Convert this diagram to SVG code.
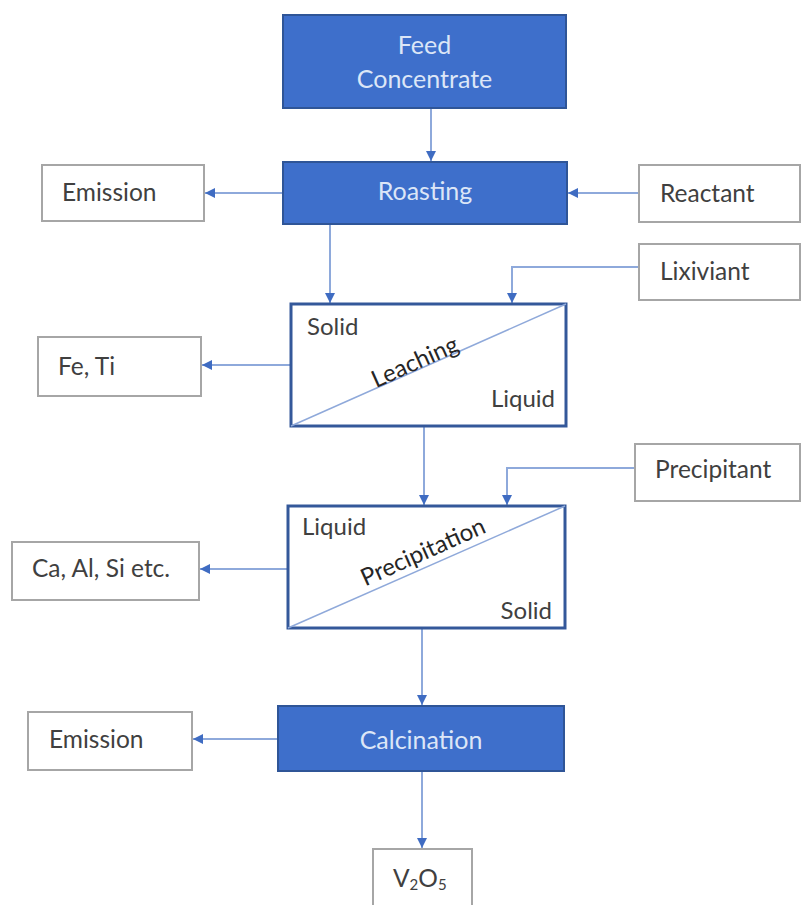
<svg xmlns="http://www.w3.org/2000/svg" width="802" height="905" viewBox="0 0 802 905">
  <defs>
    <marker id="arrow" viewBox="0 0 10 10" refX="10" refY="5" markerWidth="10" markerHeight="10" markerUnits="userSpaceOnUse" orient="auto">
      <path d="M0,0 L10,5 L0,10 z" fill="#3F6CC2"/>
    </marker>
    <style>
      .proc { fill: #3E6FCB; stroke: #2F5597; stroke-width: 2; }
      .proc-text { font-family: Lato, "Open Sans", sans-serif; font-size: 25px; fill: #DCE6F7; text-anchor: middle; }
      .io { fill: #FFFFFF; stroke: #A6A6A6; stroke-width: 2; }
      .io-text { font-family: Lato, "Open Sans", sans-serif; font-size: 24.5px; fill: #404040; }
      .split { fill: #FFFFFF; stroke: #34589A; stroke-width: 3; }
      .diag { stroke: #8FA9DA; stroke-width: 1.5; fill: none; }
      .split-text { font-family: Lato, "Open Sans", sans-serif; font-size: 24px; fill: #404040; }
      .split-title { font-family: Lato, "Open Sans", sans-serif; font-size: 24px; fill: #262626; text-anchor: middle; }
      .conn { stroke: #8EA9DB; stroke-width: 2; fill: none; marker-end: url(#arrow); }
    </style>
  </defs>
  <rect width="802" height="905" fill="#FFFFFF"/>

  <!-- connectors -->
  <g id="connectors">
    <path class="conn" d="M431,108 V161"/>
    <path class="conn" d="M283,193 H205"/>
    <path class="conn" d="M639,193 H568"/>
    <path class="conn" d="M330,224 V303"/>
    <path class="conn" d="M639,267 H512 V303"/>
    <path class="conn" d="M291,365 H202"/>
    <path class="conn" d="M424,426 V505"/>
    <path class="conn" d="M635,468 H507 V505"/>
    <path class="conn" d="M288,569 H200"/>
    <path class="conn" d="M422,628 V705"/>
    <path class="conn" d="M278,739 H193"/>
    <path class="conn" d="M422,771 V848"/>
  </g>

  <!-- process steps -->
  <g id="feed">
    <rect class="proc" x="283" y="15" width="283" height="93"/>
    <text class="proc-text" x="424.5" y="54">Feed</text>
    <text class="proc-text" x="424.5" y="88">Concentrate</text>
  </g>
  <g id="roasting">
    <rect class="proc" x="283" y="162" width="284" height="62"/>
    <text class="proc-text" x="425" y="200">Roasting</text>
  </g>
  <g id="emission-1">
    <rect class="io" x="42" y="165" width="162" height="56"/>
    <text class="io-text" x="62" y="201">Emission</text>
  </g>
  <g id="reactant">
    <rect class="io" x="639" y="165" width="161" height="57"/>
    <text class="io-text" x="660" y="202">Reactant</text>
  </g>
  <g id="lixiviant">
    <rect class="io" x="639" y="244" width="161" height="56"/>
    <text class="io-text" x="660" y="280">Lixiviant</text>
  </g>

  <g id="leaching">
    <rect class="split" x="291" y="304" width="275" height="122"/>
    <line class="diag" x1="291" y1="426" x2="566" y2="304"/>
    <text class="split-text" x="307" y="335">Solid</text>
    <text class="split-text" x="555" y="407" text-anchor="end">Liquid</text>
    <text class="split-title" x="415" y="370" transform="rotate(-24 415 362)">Leaching</text>
  </g>
  <g id="fe-ti">
    <rect class="io" x="38" y="337" width="163" height="59"/>
    <text class="io-text" x="58" y="375">Fe, Ti</text>
  </g>

  <g id="precipitant">
    <rect class="io" x="635" y="444" width="165" height="57"/>
    <text class="io-text" x="655" y="478">Precipitant</text>
  </g>
  <g id="precipitation">
    <rect class="split" x="288" y="506" width="277" height="122"/>
    <line class="diag" x1="288" y1="628" x2="565" y2="506"/>
    <text class="split-text" x="302" y="535">Liquid</text>
    <text class="split-text" x="552" y="619" text-anchor="end">Solid</text>
    <text class="split-title" x="423" y="560" transform="rotate(-24 423 552)">Precipitation</text>
  </g>
  <g id="ca-al-si">
    <rect class="io" x="12" y="542" width="187" height="58"/>
    <text class="io-text" x="32" y="577">Ca, Al, Si etc.</text>
  </g>

  <g id="calcination">
    <rect class="proc" x="278" y="706" width="286" height="65"/>
    <text class="proc-text" x="421" y="749">Calcination</text>
  </g>
  <g id="emission-2">
    <rect class="io" x="28" y="712" width="164" height="58"/>
    <text class="io-text" x="49" y="748">Emission</text>
  </g>
  <g id="v2o5">
    <rect class="io" x="373" y="849" width="99" height="70"/>
    <text class="io-text" x="393" y="887">V<tspan font-size="15" dy="3">2</tspan><tspan dy="-3">O</tspan><tspan font-size="15" dy="3">5</tspan></text>
  </g>
</svg>
